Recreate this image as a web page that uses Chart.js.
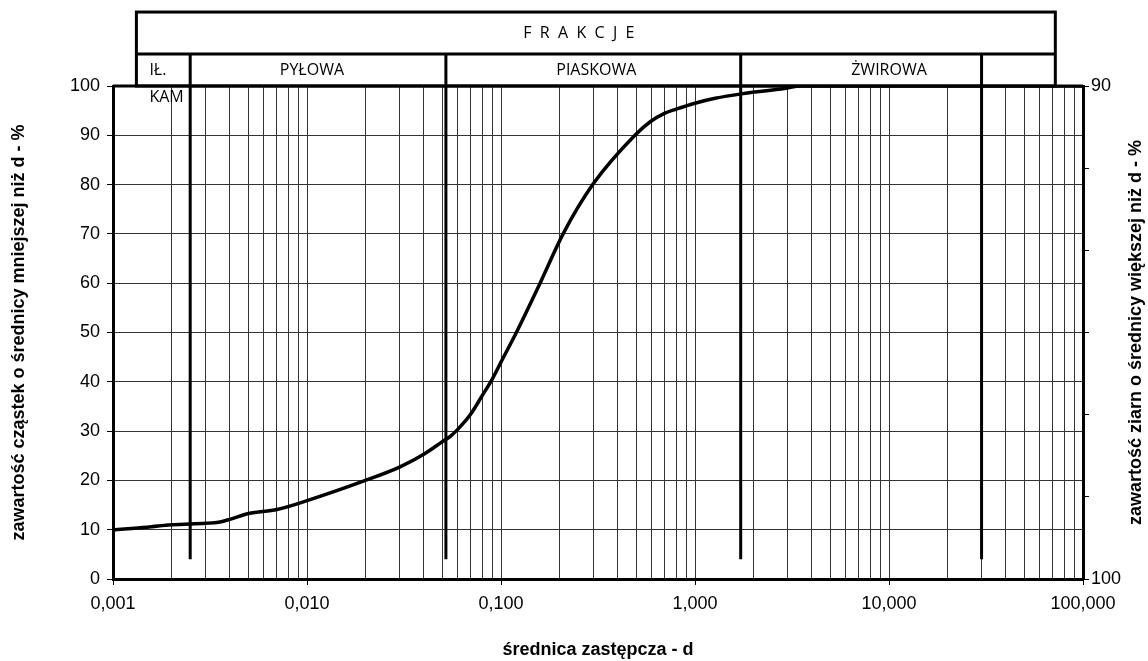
<!DOCTYPE html>
<html>
<head>
<meta charset="utf-8">
<script src="https://cdn.jsdelivr.net/npm/chart.js@4/dist/chart.umd.min.js"></script>
<style>
  html, body { margin: 0; padding: 0; background: #fff; }
  #wrap { width: 1148px; height: 661px; }
</style>
</head>
<body>
<div id="wrap"><canvas id="chart" width="1148" height="661"></canvas></div>
<script>
// grain size curve
const diameters = [0.001, 0.0015, 0.002, 0.003, 0.0035, 0.004, 0.005, 0.007, 0.01,
  0.02, 0.03, 0.04, 0.05, 0.055, 0.06, 0.065, 0.07, 0.08, 0.09, 0.1, 0.12, 0.159, 0.209, 0.297, 0.49,
  0.59, 0.7, 0.8, 1.0, 1.27, 1.73, 2.9, 3.5, 100];
const passing = [10.0, 10.5, 11.0, 11.3, 11.5, 12.1, 13.3, 14.1, 15.9,
  20.0, 22.7, 25.3, 27.9, 29.0, 30.4, 31.9, 33.5, 37.2, 40.5, 44, 50, 60, 70, 80, 90,
  92.8, 94.5, 95.3, 96.5, 97.5, 98.4, 99.5, 100, 100];

const xDecades = [0.001, 0.01, 0.1, 1, 10];
const xSteps = [1, 2, 3, 4, 5, 6, 7, 8, 9];
const xMajorTicks = [0.001, 0.01, 0.1, 1, 10, 100];
const xTickLabels = ['0,001', '0,010', '0,100', '1,000', '10,000', '100,000'];
const rightTickLabels = ['100', '', '', '', '', '', '90'];

// fraction boundaries (thick lines) and header texts
const fractionBounds = [0.0025, 0.052, 1.72, 30];
const fractionNames = ['PYŁOWA', 'PIASKOWA', 'ŻWIROWA'];
const fractionNamePos = [0.0106, 0.31, 10];
const headerSpan = [0.00132, 72];

const xGridValues = [];
xDecades.forEach(d => xSteps.forEach(s => xGridValues.push(+(d * s).toPrecision(3))));
xGridValues.push(100);

const isMajor = v => xMajorTicks.some(m => Math.abs(v - m) / m < 1e-6);

const boundSets = fractionBounds.map(b => ({
    data: [{x: b, y: 4}, {x: b, y: 106.5}],
    borderColor: '#000',
    borderWidth: 3,
    pointRadius: 0,
    clip: false
}));

const headerPlugin = {
    id: 'header',
    afterDraw(chart) {
        const {ctx, chartArea, scales} = chart;
        const x = scales.x, y = scales.y;
        const xl = x.getPixelForValue(headerSpan[0]);
        const xr = x.getPixelForValue(headerSpan[1]);
        const top = y.getPixelForValue(115);
        const mid = y.getPixelForValue(106.5);
        ctx.save();
        ctx.strokeStyle = '#000';
        ctx.lineWidth = 3;
        ctx.strokeRect(xl, top, xr - xl, chartArea.top - top);
        ctx.beginPath();
        ctx.moveTo(xl, mid);
        ctx.lineTo(xr, mid);
        ctx.moveTo(chartArea.left, chartArea.top);
        ctx.lineTo(chartArea.right, chartArea.top);
        ctx.stroke();

        ctx.fillStyle = '#000';
        ctx.font = '16px "Open Sans"';
        ctx.textBaseline = 'middle';
        ctx.textAlign = 'center';
        ctx.fillText('F  R  A  K  C  J  E', x.getPixelForValue(0.252), (top + mid) / 2);
        const rowY = (mid + chartArea.top) / 2;
        fractionNames.forEach((n, i) => ctx.fillText(n, x.getPixelForValue(fractionNamePos[i]), rowY));
        ctx.textAlign = 'left';
        ctx.fillText('IŁ.', x.getPixelForValue(0.00154), rowY);
        ctx.fillText('KAM', x.getPixelForValue(0.00154), chartArea.top + 11);

        // right axis title, reads bottom to top
        ctx.font = 'bold 18px "Liberation Sans", Arial';
        ctx.textAlign = 'center';
        ctx.translate(chart.width - 12, (chartArea.top + chartArea.bottom) / 2);
        ctx.rotate(-Math.PI / 2);
        ctx.fillText('zawartość ziarn o średnicy większej niż d - %', 0, 0);
        ctx.restore();
    }
};

const tickFont = {family: '"Liberation Sans", Arial', size: 18};
const titleFont = {family: '"Liberation Sans", Arial', size: 18, weight: 'bold'};

new Chart(document.getElementById('chart'), {
    type: 'line',
    data: {
        datasets: [{
            data: diameters.map((d, i) => ({x: d, y: passing[i]})),
            borderColor: '#000',
            borderWidth: 3.5,
            pointRadius: 0,
            cubicInterpolationMode: 'monotone'
        }, ...boundSets]
    },
    options: {
        responsive: false,
        animation: false,
        layout: {padding: {top: 86, left: 0, right: 0, bottom: 0}},
        plugins: {legend: {display: false}, tooltip: {enabled: false}},
        scales: {
            x: {
                type: 'logarithmic',
                position: 'bottom',
                min: 0.001,
                max: 100,
                afterBuildTicks: scale => { scale.ticks = xGridValues.map(v => ({value: v})); },
                afterFit: scale => { scale.height = 82; },
                ticks: {
                    autoSkip: false,
                    maxRotation: 0,
                    font: tickFont,
                    color: '#000',
                    padding: 8,
                    callback: v => {
                        const i = xMajorTicks.findIndex(m => Math.abs(v - m) / m < 1e-6);
                        return i >= 0 ? xTickLabels[i] : '';
                    }
                },
                grid: {
                    color: '#333',
                    lineWidth: 1,
                    tickLength: 6,
                    tickColor: c => (c.tick && isMajor(c.tick.value)) ? '#000' : 'rgba(0,0,0,0)'
                },
                border: {display: true, color: '#000', width: 3},
                title: {display: true, text: 'średnica zastępcza - d', font: titleFont, color: '#000', padding: {top: 0, bottom: 0}}
            },
            y: {
                position: 'left',
                min: 0,
                max: 100,
                afterFit: scale => { scale.width = 113; },
                ticks: {stepSize: 10, font: tickFont, color: '#000', padding: 7},
                grid: {color: '#333', lineWidth: 1, tickLength: 6, tickColor: '#000'},
                border: {display: true, color: '#000', width: 3},
                title: {display: true, text: 'zawartość cząstek o średnicy mniejszej niż d - %', font: titleFont, color: '#000', padding: {top: 8, bottom: 0}}
            },
            y2: {
                position: 'right',
                min: 0,
                max: 6,
                afterFit: scale => { scale.width = 65; },
                ticks: {stepSize: 1, font: tickFont, color: '#000', padding: 2, callback: v => rightTickLabels[v]},
                grid: {drawOnChartArea: false, tickLength: 6, tickColor: '#000'},
                border: {display: true, color: '#000', width: 3}
            }
        }
    },
    plugins: [headerPlugin]
});
</script>
</body>
</html>
